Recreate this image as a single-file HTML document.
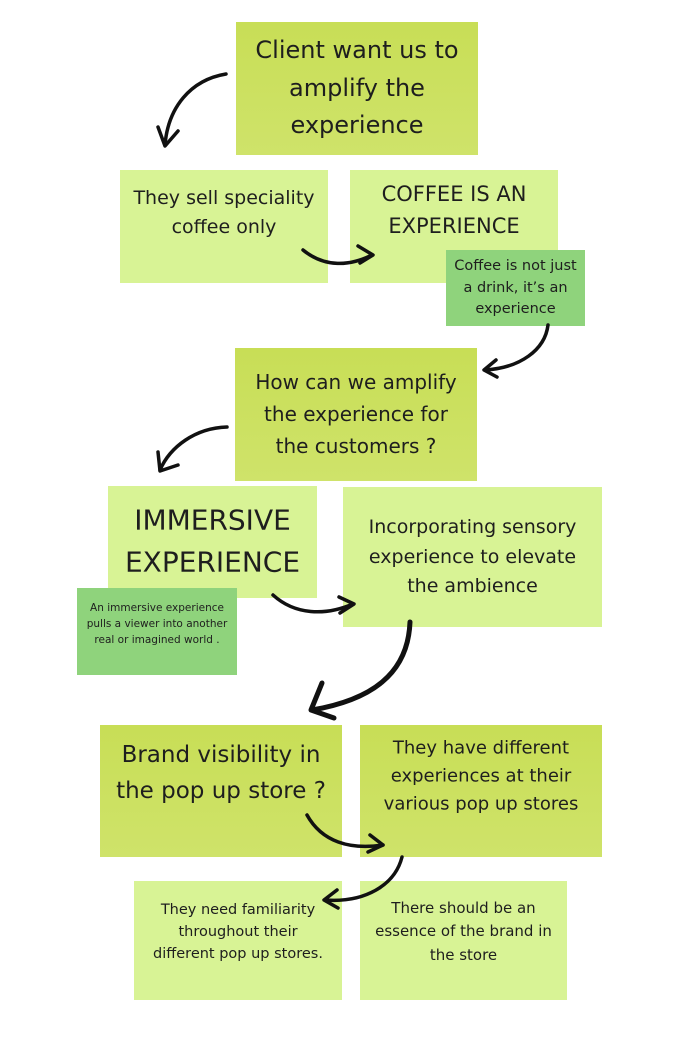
<!DOCTYPE html>
<html><head><meta charset="utf-8"><style>
html,body{margin:0;padding:0;background:#fff;}
body{width:690px;height:1053px;position:relative;overflow:hidden;font-family:"DejaVu Sans","Liberation Sans",sans-serif;color:#1e1e1e;}
.b{position:absolute;box-sizing:border-box;text-align:center;}
.d{background:linear-gradient(180deg,#c8de56,#cfe36a);}
.l{background:#d8f395;}
.g{background:#8fd37c;}
.b div{position:absolute;left:0;right:0;white-space:nowrap;transform:translateY(-50%);}
svg{position:absolute;left:0;top:0;}
</style></head><body>
<div class="b d" style="left:236px;top:22px;width:242px;height:133px;font-size:24px;">
<div style="top:28px">Client want us to</div><div style="top:66px">amplify the</div><div style="top:103px">experience</div></div>
<div class="b l" style="left:120px;top:170px;width:208px;height:113px;font-size:19px;">
<div style="top:28px">They sell speciality</div><div style="top:57px">coffee only</div></div>
<div class="b l" style="left:350px;top:170px;width:208px;height:113px;font-size:21px;">
<div style="top:24px">COFFEE IS AN</div><div style="top:56px">EXPERIENCE</div></div>
<div class="b g" style="left:446px;top:250px;width:139px;height:76px;font-size:14.5px;">
<div style="top:16px">Coffee is not just</div><div style="top:38px">a drink, it’s an</div><div style="top:59px">experience</div></div>
<div class="b d" style="left:235px;top:348px;width:242px;height:133px;font-size:20px;">
<div style="top:34px">How can we amplify</div><div style="top:66px">the experience for</div><div style="top:98px">the customers ?</div></div>
<div class="b l" style="left:108px;top:486px;width:209px;height:112px;font-size:28px;">
<div style="top:34px">IMMERSIVE</div><div style="top:76px">EXPERIENCE</div></div>
<div class="b l" style="left:343px;top:487px;width:259px;height:140px;font-size:19px;">
<div style="top:40px">Incorporating sensory</div><div style="top:70px">experience to elevate</div><div style="top:99px">the ambience</div></div>
<div class="b g" style="left:77px;top:588px;width:160px;height:87px;font-size:10.5px;">
<div style="top:20px">An immersive experience</div><div style="top:36px">pulls a viewer into another</div><div style="top:52px">real or imagined world .</div></div>
<div class="b d" style="left:100px;top:725px;width:242px;height:132px;font-size:23px;">
<div style="top:30px">Brand visibility in</div><div style="top:66px">the pop up store ?</div></div>
<div class="b d" style="left:360px;top:725px;width:242px;height:132px;font-size:18px;">
<div style="top:23px">They have different</div><div style="top:51px">experiences at their</div><div style="top:79px">various pop up stores</div></div>
<div class="b l" style="left:134px;top:881px;width:208px;height:119px;font-size:14.5px;">
<div style="top:29px">They need familiarity</div><div style="top:51px">throughout their</div><div style="top:73px">different pop up stores.</div></div>
<div class="b l" style="left:360px;top:881px;width:207px;height:119px;font-size:15px;">
<div style="top:27px">There should be an</div><div style="top:50px">essence of the brand in</div><div style="top:74px">the store</div></div>
<svg width="690" height="1053" fill="none" stroke="#111" stroke-linecap="round" stroke-linejoin="round">
<g stroke-width="3.5">
<path d="M226 74 C190 80 168 108 165 145"/><path d="M158 127 L165 146 L178 131"/>
<path d="M303 250 C325 268 350 266 372 255"/><path d="M358 246 L373 255 L360 263"/>
<path d="M548 325 C545 350 520 368 485 370"/><path d="M496 360 L484 370 L497 377"/>
<path d="M227 427 C195 428 170 447 160 470"/><path d="M158 452 L160 471 L178 465"/>
<path d="M273 595 C295 615 325 616 353 604"/><path d="M339 597 L354 604 L340 613"/>
<path d="M307 815 C322 842 350 850 383 845"/><path d="M370 835 L383 845 L368 852"/>
<path d="M402 857 C395 885 365 903 325 900"/><path d="M337 890 L324 900 L338 908"/>
</g>
<g stroke-width="5">
<path d="M410 622 C408 675 370 700 312 710"/><path d="M322 683 L311 710 L334 718"/>
</g>
</svg>
</body></html>
